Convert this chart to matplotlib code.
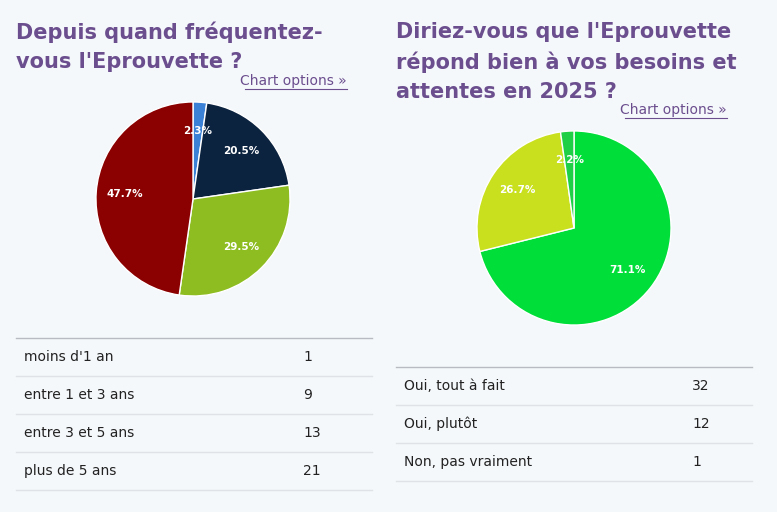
import matplotlib.pyplot as plt

W, H = 777, 512
BG = '#f5f8fb'
PURPLE = '#6b4e8e'

q1_title = ["Depuis quand fréquentez-", "vous l'Eprouvette ?"]
q1_labels = ["moins d'1 an", "entre 1 et 3 ans", "entre 3 et 5 ans", "plus de 5 ans"]
q1_counts = [1, 9, 13, 21]
q1_colors = ['#3b82d6', '#0c2340', '#8dbd21', '#8b0000']

q2_title = ["Diriez-vous que l'Eprouvette", "répond bien à vos besoins et", "attentes en 2025 ?"]
q2_labels = ["Oui, tout à fait", "Oui, plutôt", "Non, pas vraiment"]
q2_counts = [32, 12, 1]
q2_colors = ['#00de3a', '#c8e01e', '#1fcf45']

fig = plt.figure(figsize=(W / 100, H / 100), dpi=100, facecolor=BG)
bg = fig.add_axes([0, 0, 1, 1])
bg.set_xlim(0, W)
bg.set_ylim(H, 0)
bg.axis('off')


def block(x0, x1, title, ty, opt_y, labels, counts, colors, cx, cy, r, row_top, val_x):
    for i, line in enumerate(title):
        bg.text(x0, ty + 30 * i, line, fontsize=15, fontweight='bold', color=PURPLE, va='center')
    bg.text(x1 - 25, opt_y, "Chart options »", fontsize=10, color=PURPLE, ha='right', va='center')
    bg.plot([x1 - 127, x1 - 25], [opt_y + 8, opt_y + 8], color=PURPLE, lw=0.8)

    ax = fig.add_axes([(cx - r) / W, 1 - (cy + r) / H, 2 * r / W, 2 * r / H])
    ax.pie(counts, colors=colors, startangle=90, counterclock=False,
           autopct='%.1f%%', pctdistance=0.7,
           wedgeprops=dict(edgecolor='white', linewidth=1),
           textprops=dict(color='white', fontsize=7.5, fontweight='bold'))
    ax.set_xlim(-1.01, 1.01)
    ax.set_ylim(-1.01, 1.01)
    ax.set_aspect('equal')

    bg.plot([x0, x1], [row_top, row_top], color='#b8bcc2', lw=1)
    for i, (lab, c) in enumerate(zip(labels, counts)):
        y = row_top + 38 * i
        bg.text(x0 + 8, y + 19, lab, fontsize=10, color='#222222', va='center')
        bg.text(val_x, y + 19, str(c), fontsize=10, color='#222222', va='center')
        bg.plot([x0, x1], [y + 38, y + 38], color='#dfe2e6', lw=1)


block(16, 372, q1_title, 32, 81, q1_labels, q1_counts, q1_colors, 193, 199, 98, 338, 303)
block(396, 752, q2_title, 32, 110, q2_labels, q2_counts, q2_colors, 574, 228, 98, 367, 692)

fig.savefig('out.png', dpi=100, facecolor=BG)
